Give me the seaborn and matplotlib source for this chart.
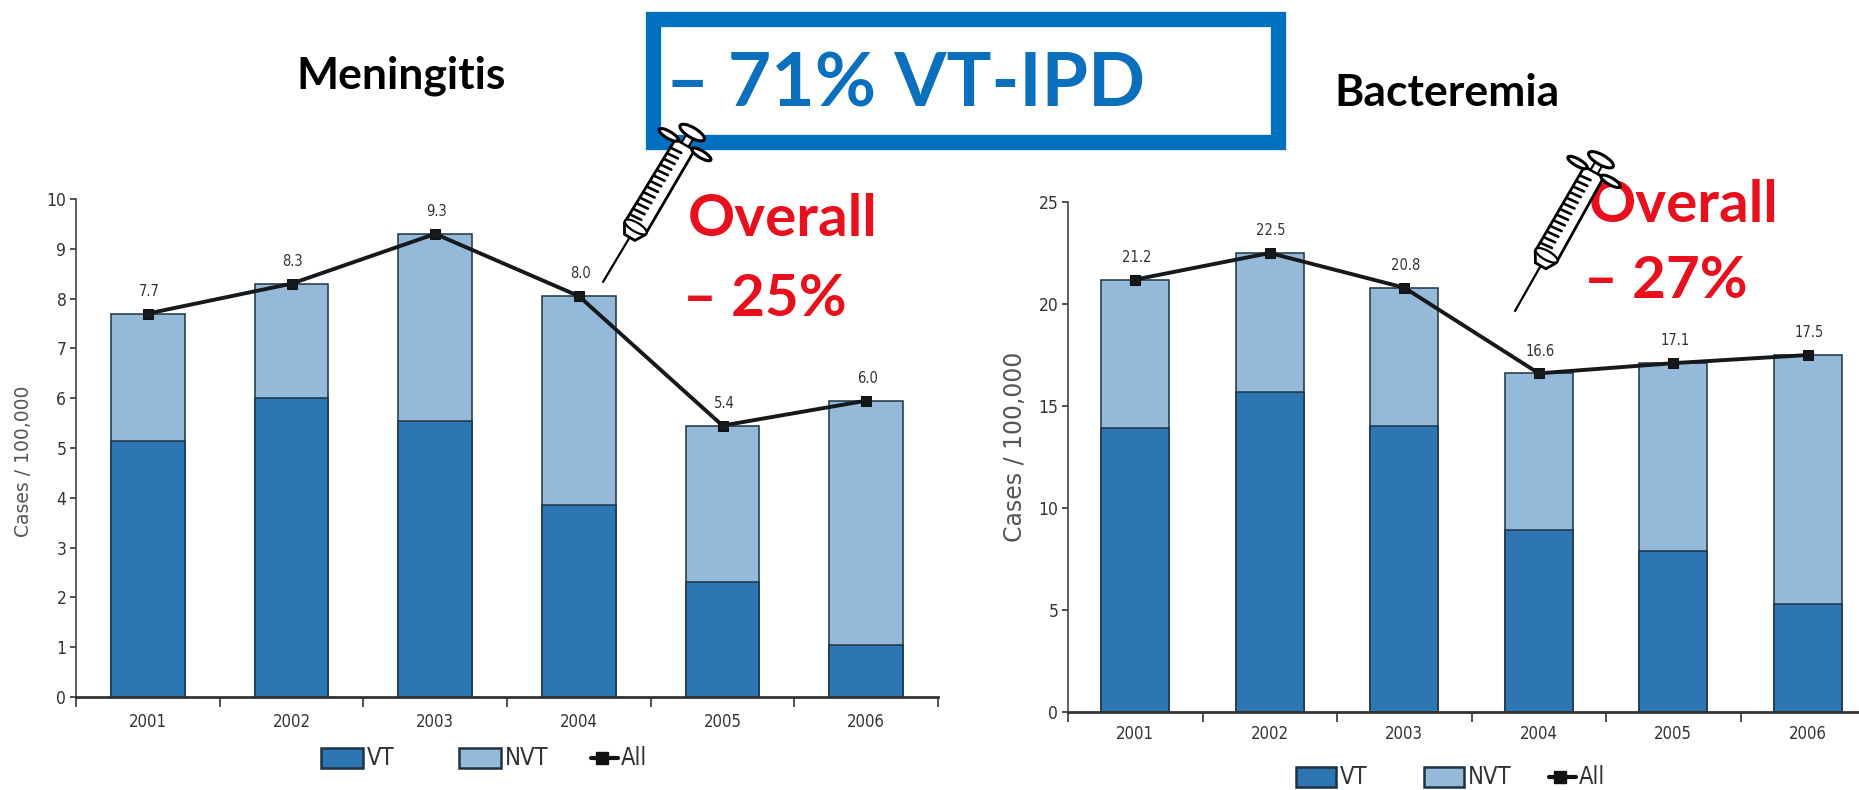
import numpy as np
import pandas as pd
import matplotlib
matplotlib.use("Agg")
import matplotlib.pyplot as plt
from matplotlib.patches import Rectangle, Polygon, Ellipse
from matplotlib.ticker import FixedLocator, NullFormatter
import seaborn as sns

years = ["2001", "2002", "2003", "2004", "2005", "2006"]
men_vt = [5.15, 6.0, 5.55, 3.85, 2.3, 1.05]
men_nvt = [2.55, 2.3, 3.75, 4.2, 3.15, 4.9]
men_all = [7.7, 8.3, 9.3, 8.0, 5.4, 6.0]
bac_vt = [13.9, 15.7, 14.0, 8.9, 7.9, 5.3]
bac_nvt = [7.3, 6.8, 6.8, 7.7, 9.2, 12.2]
bac_all = [21.2, 22.5, 20.8, 16.6, 17.1, 17.5]

VT_C = "#2E76B2"
NVT_C = "#95B9D8"
EDGE = "#1d3344"
TXT = "#333333"
BLUE = "#0A70BE"
RED = "#E8101C"
W, H = 1859, 790

sns.set_theme(style="white")
plt.rcParams["font.family"] = ["DejaVu Sans"]

fig = plt.figure(figsize=(W / 100, H / 100), dpi=100, facecolor="white")


def axes_px(x0, x1, ytop, ybot):
    return fig.add_axes([x0 / W, 1 - ybot / H, (x1 - x0) / W, (ybot - ytop) / H])


def panel(ax, vt, nvt, total, ymax, yticks, xmax, width, label_off, xpad):
    top = np.add(vt, nvt)
    df = pd.DataFrame({"year": years, "vt": vt, "top": top})
    sns.barplot(data=df, x="year", y="top", color=NVT_C, width=width, saturation=1,
                edgecolor=EDGE, linewidth=1.1, ax=ax)
    sns.barplot(data=df, x="year", y="vt", color=VT_C, width=width, saturation=1,
                edgecolor=EDGE, linewidth=1.1, ax=ax)
    sns.lineplot(data=df, x="year", y="top", color="#15191c", linewidth=2.8, marker="s",
                 markersize=6.5, markeredgecolor="#111111", ax=ax, zorder=5)
    for i, v in enumerate(total):
        ax.annotate(f"{v:.1f}", (i, top[i]), xytext=(1, label_off), textcoords="offset points",
                    ha="center", va="center", fontsize=10.5, stretch="condensed", color=TXT)
    ax.set_xlim(-0.5, xmax)
    ax.set_ylim(0, ymax)
    ax.set_yticks(yticks)
    ax.xaxis.set_minor_locator(FixedLocator(np.arange(-0.5, 5.6, 1)))
    ax.xaxis.set_minor_formatter(NullFormatter())
    ax.tick_params(axis="x", which="major", length=0, pad=xpad, labelsize=12, labelcolor=TXT)
    ax.tick_params(axis="x", which="minor", bottom=True, length=7, width=1.2, color="#333333")
    ax.tick_params(axis="y", left=True, length=4, width=1.2, color="#333333", pad=3,
                   labelsize=12.5, labelcolor=TXT)
    for t in ax.get_xticklabels() + ax.get_yticklabels():
        t.set_fontstretch("condensed")
    ax.set_xlabel("")
    ax.set_ylabel("")
    sns.despine(ax=ax)
    ax.spines["left"].set_color("#444444")
    ax.spines["left"].set_linewidth(1.2)
    ax.spines["bottom"].set_color("#333333")
    ax.spines["bottom"].set_linewidth(2)
    ax.patch.set_alpha(0)


ax1 = axes_px(76, 938, 199, 697)
panel(ax1, men_vt, men_nvt, men_all, 10, range(0, 11), 5.5, 0.515, 16, 11.5)
ax2 = axes_px(1068, 1859, 202, 712)
panel(ax2, bac_vt, bac_nvt, bac_all, 25, range(0, 26, 5), 5.38, 0.507, 16, 9.7)

ov = fig.add_axes([0, 0, 1, 1], zorder=10)
ov.set_xlim(0, W)
ov.set_ylim(H, 0)
ov.axis("off")
ov.patch.set_alpha(0)

ov.text(24, 461, "Cases / 100,000", rotation=90, ha="center", va="center", fontsize=13.5, color="#555555")
ov.text(1015, 447, "Cases / 100,000", rotation=90, ha="center", va="center", fontsize=17, color="#555555")

# headline box and titles
ov.add_patch(Rectangle((653, 18.5), 625.5, 123, fill=False, edgecolor="#0070C0", linewidth=11))
ov.text(666, 85, "– 71% VT-IPD", color=BLUE, fontsize=54, fontweight="bold", family="Lato", va="center")
ov.text(296, 76, "Meningitis", color="black", fontsize=32, fontweight="bold", family="Lato", va="center")
ov.text(1334, 93, "Bacteremia", color="black", fontsize=32, fontweight="bold", family="Lato", va="center")
ov.text(688, 220, "Overall", color=RED, fontsize=42, fontweight="bold", family="Lato", va="center")
ov.text(683, 299, "– 25%", color=RED, fontsize=42, fontweight="bold", family="Lato", va="center")
ov.text(1589, 205, "Overall", color=RED, fontsize=42, fontweight="bold", family="Lato", va="center")
ov.text(1584, 282, "– 27%", color=RED, fontsize=42, fontweight="bold", family="Lato", va="center")


def syringe(tip, top):
    tip, top = np.array(tip, float), np.array(top, float)
    d = (top - tip) / np.linalg.norm(top - tip)
    n = np.array([-d[1], d[0]])
    P = lambda u, v: tip + d * u + n * v
    ang = np.degrees(np.arctan2(n[1], n[0]))
    ov.plot(*zip(P(0, 0), P(58, 0)), color="black", lw=1.6, zorder=3)
    ov.add_patch(Polygon([P(52, -6), P(52, 6), P(62, 12), P(160, 11), P(160, -11), P(62, -12)],
                         fc="white", ec="black", lw=2, zorder=4))
    ov.add_patch(Ellipse(P(64, 0), 25, 9, angle=ang, fc="white", ec="black", lw=1.6, zorder=5))
    for u in np.arange(72, 156, 6.5):
        ov.plot(*zip(P(u, -10), P(u + 1, 1)), color="black", lw=1.9, zorder=5)
    ov.add_patch(Polygon([P(160, -4), P(160, 4), P(172, 4), P(172, -4)],
                         fc="white", ec="black", lw=1.5, zorder=4))
    ov.add_patch(Ellipse(P(160, -19), 22, 7, angle=ang, fc="white", ec="black", lw=2.2, zorder=5))
    ov.add_patch(Ellipse(P(160, 19), 22, 7, angle=ang, fc="white", ec="black", lw=2.2, zorder=5))
    ov.add_patch(Ellipse(P(174, 0), 28, 10, angle=ang, fc="white", ec="black", lw=2.2, zorder=5))


syringe((603, 282), (686, 143))
syringe((1515, 311), (1594, 172))


def legend(y, vt_x, nvt_x, all_x, swatch_w, swatch_h, size):
    for x, col, lab in ((vt_x, VT_C, "VT"), (nvt_x, NVT_C, "NVT")):
        ov.add_patch(Rectangle((x, y - swatch_h / 2), swatch_w, swatch_h, fc=col, ec=EDGE, lw=1.8))
        ov.text(x + swatch_w + 4, y, lab, fontsize=size, stretch="condensed", color=TXT, va="center")
    ov.plot([all_x, all_x + 27], [y, y], color="#111111", lw=3)
    ov.plot([all_x + 11], [y], marker="s", markersize=8, color="#111111")
    ov.text(all_x + 30, y, "All", fontsize=size, stretch="condensed", color=TXT, va="center")


legend(758, 321, 459, 591, 42, 20, 17)
legend(777, 1296, 1424, 1549, 40, 20, 17)

ov.set_xlim(0, W)
ov.set_ylim(H, 0)
fig.savefig("out.png", dpi=100, facecolor="white")
